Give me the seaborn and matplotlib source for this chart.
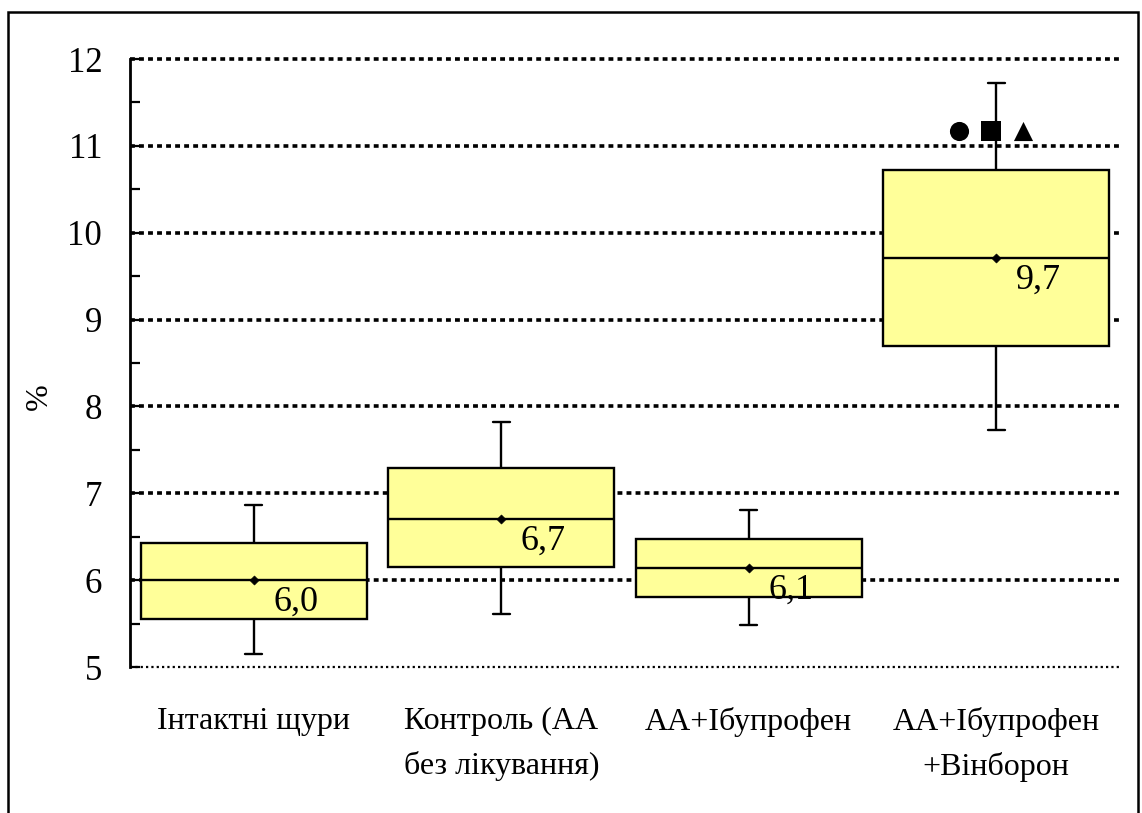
import numpy as np
import pandas as pd
import matplotlib
matplotlib.use("Agg")
import matplotlib.pyplot as plt
from matplotlib.patches import Rectangle
import seaborn as sns

# Groups and five-number summaries (%)
categories = ["Інтактні щури", "Контроль (АА\nбез лікування)",
              "АА+Ібупрофен", "АА+Ібупрофен\n+Вінборон"]
whisker_low = [5.15, 5.61, 5.48, 7.73]
q1 = [5.55, 6.15, 5.81, 8.70]
median = [6.00, 6.70, 6.14, 9.71]
q3 = [6.43, 7.29, 6.47, 10.72]
whisker_high = [6.87, 7.82, 6.81, 11.72]

# Significance markers above the last group
sig_group = "АА+Ібупрофен\n+Вінборон"
sig_level = 11.17
sig_offsets = [-0.15, -0.02, 0.11]
sig_markers = ["o", "s", "^"]

y_ticks = [5, 6, 7, 8, 9, 10, 11, 12]

sns.set_theme(style="white")
plt.rcParams["font.family"] = ["Liberation Serif", "DejaVu Serif"]
plt.rcParams["font.size"] = 24
for key in ("text.color", "axes.labelcolor", "xtick.color", "ytick.color",
            "xtick.labelcolor", "ytick.labelcolor"):
    plt.rcParams[key] = "black"

rows = []
for cat, a, b, c, d, e in zip(categories, whisker_low, q1, median, q3, whisker_high):
    for v in (a, b, c, d, e):
        rows.append({"group": cat, "value": v})
df = pd.DataFrame(rows)

fig = plt.figure(figsize=(11.42, 8.13), dpi=100)
ax = fig.add_axes([130 / 1142, 1 - 667 / 813, 990 / 1142, 608 / 813])

# Dotted horizontal grid
for t in y_ticks[1:]:
    ax.axhline(t, color="black", lw=2.6, linestyle=(0, (1.35, 1.15)),
               zorder=0, clip_on=False)
ax.axhline(5, color="black", lw=1.6, linestyle=(0, (1.0, 1.4)), zorder=0,
           clip_on=False)

sns.boxplot(data=df, x="group", y="value", order=categories, whis=(0, 100),
            width=0.915, color="#FFFF99", saturation=1, linecolor="black",
            linewidth=1.7, capwidths=0.07, showfliers=False, ax=ax, zorder=2)

# Centre dots on medians
dots = pd.DataFrame({"group": categories, "value": median})
sns.scatterplot(data=dots, x="group", y="value", marker="D", s=22,
                color="black", edgecolor="black", ax=ax, zorder=4)

# Value labels
for i, v in enumerate(median):
    ax.annotate(f"{v:.1f}".replace(".", ","), xy=(i, v), xytext=(14, -22),
                textcoords="offset points", ha="left", va="baseline",
                fontsize=26, color="black", zorder=5)

# Significance markers
gi = categories.index(sig_group)
for off, m in zip(sig_offsets, sig_markers):
    ax.scatter(gi + off, sig_level, marker=m, s=190, color="black", zorder=5,
               linewidths=0)

ax.set_xlim(-0.5, 3.5)
ax.set_ylim(5, 12)
ax.set_yticks(y_ticks)
ax.set_yticks(np.arange(5.5, 12, 1.0), minor=True)
ax.tick_params(axis="y", which="both", direction="in", length=7, width=1.6,
               pad=20, labelsize=25, left=True, colors="black")
ax.tick_params(axis="x", length=0, pad=29, labelsize=23, colors="black")
for lbl in ax.get_xticklabels():
    lbl.set_linespacing(1.62)
ax.set_xlabel("")
ax.set_ylabel("%", fontsize=23, color="black")
ax.yaxis.set_label_coords(-76 / 990, 0.445)

for s in ("top", "right", "bottom"):
    ax.spines[s].set_visible(False)
ax.spines["left"].set_color("black")
ax.spines["left"].set_linewidth(2.0)

# Frame around the figure
fig.patches.append(Rectangle((8 / 1142, -0.05), 1130 / 1142, 1.05 - 12 / 813,
                             transform=fig.transFigure, fill=False,
                             edgecolor="black", linewidth=1.8))

fig.savefig("out.png", dpi=100)
